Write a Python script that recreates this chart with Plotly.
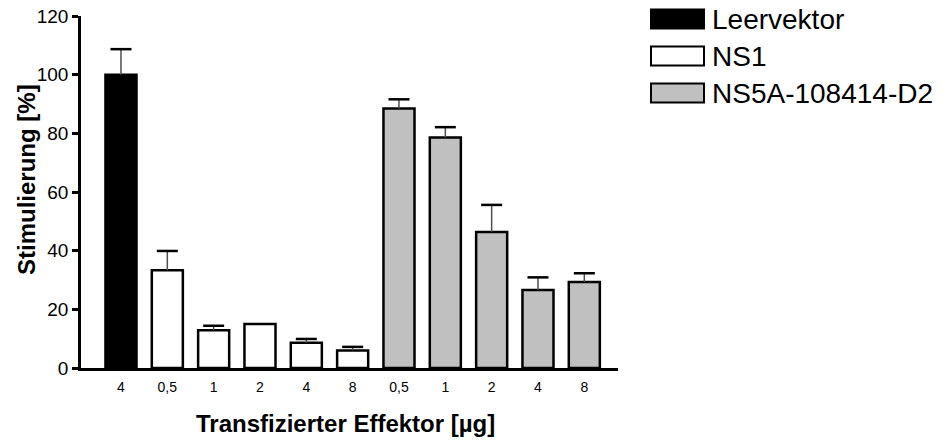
import plotly.graph_objects as go

# ---- data ----
tick_labels = ["4", "0,5", "1", "2", "4", "8", "0,5", "1", "2", "4", "8"]
leer_x = [0]
leer_vals = [100.0]
leer_err = [8.7]
ns1_x = [1, 2, 3, 4, 5]
ns1_vals = [33.3, 12.9, 15.0, 8.6, 6.0]
ns1_err = [6.6, 1.5, 0.0, 1.3, 1.2]
ns5a_x = [6, 7, 8, 9, 10]
ns5a_vals = [88.5, 78.6, 46.4, 26.6, 29.3]
ns5a_err = [3.1, 3.5, 9.2, 4.3, 3.0]

series = [
    ("Leervektor", leer_x, leer_vals, leer_err, "#000000"),
    ("NS1", ns1_x, ns1_vals, ns1_err, "#ffffff"),
    ("NS5A-108414-D2", ns5a_x, ns5a_vals, ns5a_err, "#c0c0c0"),
]

OFF = 8  # page body margin
W, H = 949 - OFF, 442 - OFF
L, R, T, B = 81 - OFF, 618 - OFF, 16 - OFF, 368 - OFF  # plot area (figure px)


def px(x):
    return (x - OFF - L) / (R - L)


def py(y):
    return (B - (y - OFF)) / (B - T)


FONT = "Liberation Sans, Arial"
fig = go.Figure()
for name, xs, vals, errs, col in series:
    fig.add_trace(go.Bar(
        x=xs, y=vals, name=name, width=0.67,
        marker=dict(color=col, line=dict(color="#000000", width=2.5)),
        error_y=dict(type="data", symmetric=False, array=errs,
                     arrayminus=[0] * len(errs), color="#505050",
                     thickness=1.5, width=0),
        showlegend=False, hoverinfo="x+y",
    ))
    # error caps
    cx = [x for x, e in zip(xs, errs) if e > 0]
    cy = [v + e for v, e in zip(vals, errs) if e > 0]
    fig.add_trace(go.Scatter(
        x=cx, y=cy, mode="markers", showlegend=False, hoverinfo="skip",
        marker=dict(symbol="line-ew", size=15,
                    line=dict(color="#000000", width=2.5)),
    ))

# custom legend
legend_rows = [19, 56, 93]
for (name, xs, vals, errs, col), yc in zip(series, legend_rows):
    fig.add_shape(type="rect", xref="paper", yref="paper",
                  x0=px(651), x1=px(704), y0=py(yc - 9.5), y1=py(yc + 9.5),
                  fillcolor=col, line=dict(color="#000000", width=2))
    fig.add_annotation(xref="paper", yref="paper", x=px(710), y=py(yc + 1),
                       text=name, showarrow=False, xanchor="left",
                       yanchor="middle",
                       font=dict(family=FONT, size=28, color="#000000"))

# axis titles
fig.add_annotation(xref="paper", yref="paper", x=px(26), y=py(180),
                   text="<b>Stimulierung [%]</b>", textangle=-90,
                   showarrow=False, xanchor="center", yanchor="middle",
                   font=dict(family=FONT, size=24, color="#000000"))
fig.add_annotation(xref="paper", yref="paper", x=px(345), y=py(423),
                   text="<b>Transfizierter Effektor [µg]</b>",
                   showarrow=False, xanchor="center", yanchor="middle",
                   font=dict(family=FONT, size=24, color="#000000"))

fig.update_layout(
    width=W, height=H,
    margin=dict(l=L, r=W - R, t=T, b=H - B, pad=0),
    paper_bgcolor="white", plot_bgcolor="white",
    barmode="overlay",
    font=dict(family=FONT, color="#000000"),
    xaxis=dict(range=[-0.863, 10.727], tickvals=list(range(11)),
               ticktext=tick_labels, showgrid=False, zeroline=False,
               showline=True, linecolor="#000000", linewidth=2.5,
               ticks="", tickfont=dict(size=14), ticklabelstandoff=4,
               automargin=False, fixedrange=True,
               ticklabeloverflow="allow"),
    yaxis=dict(range=[0, 120], tickvals=[0, 20, 40, 60, 80, 100, 120],
               showgrid=False, zeroline=False, showline=True,
               linecolor="#000000", linewidth=2.5, ticks="outside",
               ticklen=6, tickwidth=2.5, tickcolor="#000000",
               tickfont=dict(size=19), automargin=False, fixedrange=True,
               ticklabeloverflow="allow"),
)

fig.write_html("out.html")
